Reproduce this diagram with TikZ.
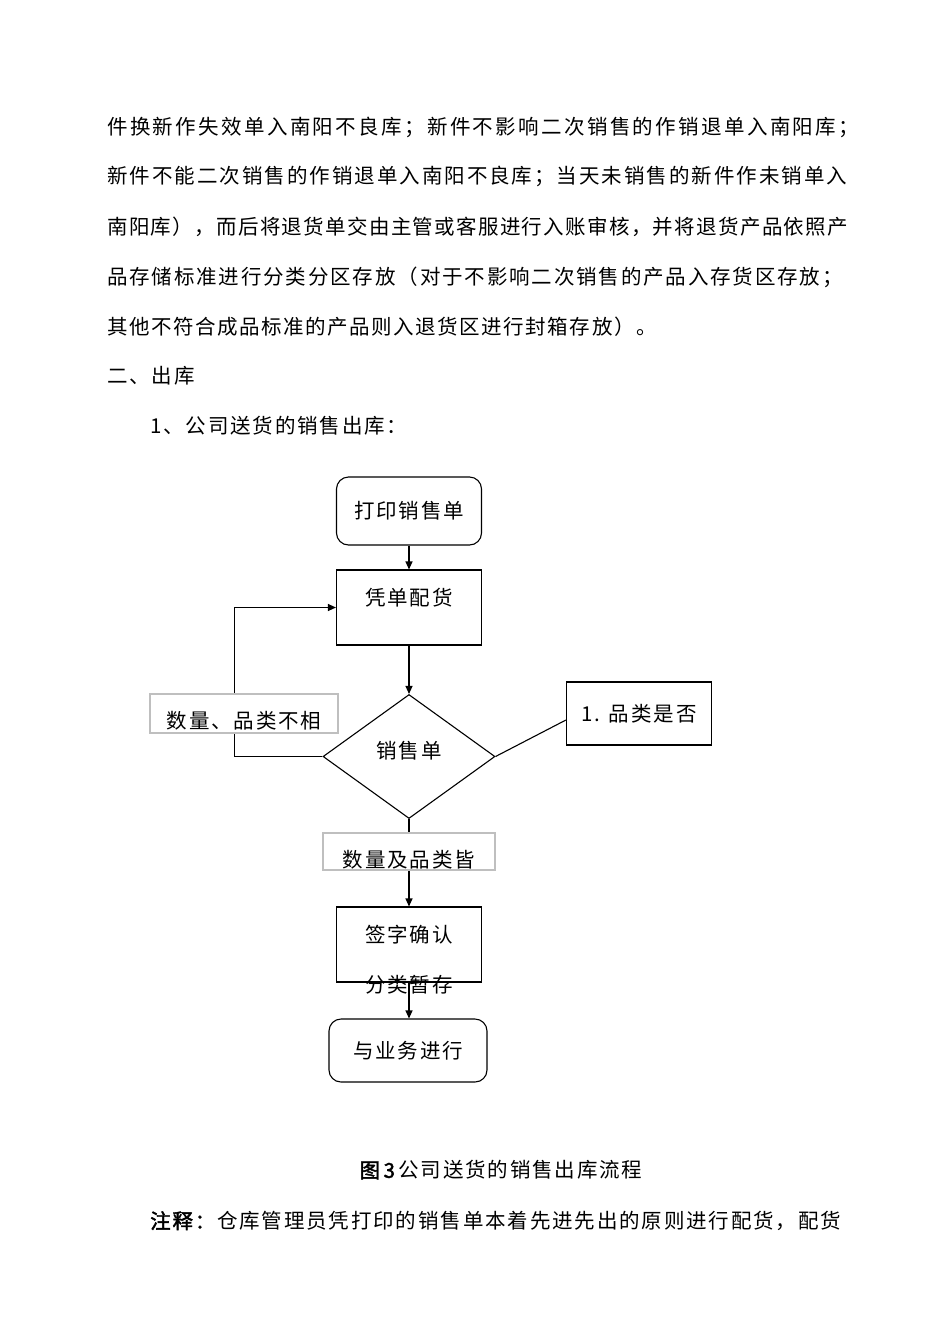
\documentclass[tikz,border=0pt]{standalone}
\usepackage{fontspec}
\setmainfont{Noto Sans CJK SC}[LetterSpace=9,AutoFakeBold=2]
\usetikzlibrary{shapes.geometric,arrows.meta}

\begin{document}
\begin{tikzpicture}[x=1pt,y=-1pt,
  every node/.style={font=\fontsize{20.5}{24}\selectfont, inner sep=0pt},
  txt/.style={anchor=west},
  box/.style={draw, line width=1.1pt, minimum width=145pt, minimum height=75pt},
  rbox/.style={draw, line width=1.1pt, rounded corners=12pt},
  cond/.style={diamond, draw, line width=1.1pt, minimum width=172pt, minimum height=124pt},
  tag/.style={draw=black!25, line width=1.5pt, fill=white},
  arr/.style={-{Triangle[length=8pt,width=7pt]}, line width=1.1pt}]

\def\lx{107}
\useasboundingbox (0,0) rectangle (950,1344);
\fill[white] (0,0) rectangle (950,1344);

\node[txt] (l1) at (\lx,127) {\addfontfeature{LetterSpace=11.5}件换新作失效单入南阳不良库；新件不影响二次销售的作销退单入南阳库；};
\node[txt] (l2) at (\lx,176) {\addfontfeature{LetterSpace=9.7}新件不能二次销售的作销退单入南阳不良库；当天未销售的新件作未销单入};
\node[txt] (l3) at (\lx,227) {\addfontfeature{LetterSpace=6.5}南阳库），而后将退货单交由主管或客服进行入账审核，并将退货产品依照产};
\node[txt] (l4) at (\lx,277) {品存储标准进行分类分区存放（对于不影响二次销售的产品入存货区存放；};
\node[txt] (l5) at (\lx,327) {\addfontfeature{LetterSpace=7.5}其他不符合成品标准的产品则入退货区进行封箱存放）。};
\node[txt] (l6) at (\lx,376) {二、出库};
\node[txt] (l7) at (150,426) {1、公司送货的销售出库：};

% flow chart
\node[rbox, minimum width=145pt, minimum height=68pt] (print) at (409,511) {打印销售单};
\node[box, label={[yshift=9.5pt]center:凭单配货}] (peihuo) at (409,607.5) {};
\node[cond, label={[yshift=6pt]center:销售单}] (sale) at (409,756.5) {};
\node[box, minimum height=63pt] (check) at (639,713.5) {1. 品类是否};
\node[box, label={[yshift=9.5pt]center:签字确认}, label={[yshift=-40.5pt]center:分类暂存}] (sign) at (409,944.5) {};
\node[rbox, minimum width=158pt, minimum height=63pt] (done) at (408,1050.5) {与业务进行};

\draw[arr] (print.south) -- (peihuo.north);
\draw[arr] (peihuo.south) -- (sale.north);
\draw[arr] (sale.west) -- ++(-88,0) |- (peihuo.west);
\draw[line width=1.1pt] (sale.east) -- ([yshift=-6.5pt]check.west);
\draw[arr] (sale.south) -- (sign.north);
\draw[arr] (sign.south) -- (sign.south |- done.north);

% labels on the branches
\node[tag, minimum width=188pt, minimum height=39pt, label={[yshift=-7pt]center:数量、品类不相}] (no) at (244,713.5) {};
\node[tag, minimum width=172pt, minimum height=37pt, label={[yshift=-8pt]center:数量及品类皆}] (yes) at (409,851.5) {};

\node (cap) at (501,1170) {\textbf{图\,3\,}公司送货的销售出库流程};
\node[txt] (note) at (150,1221) {\textbf{注释：}仓库管理员凭打印的销售单本着先进先出的原则进行配货，配货};

\end{tikzpicture}
\end{document}
